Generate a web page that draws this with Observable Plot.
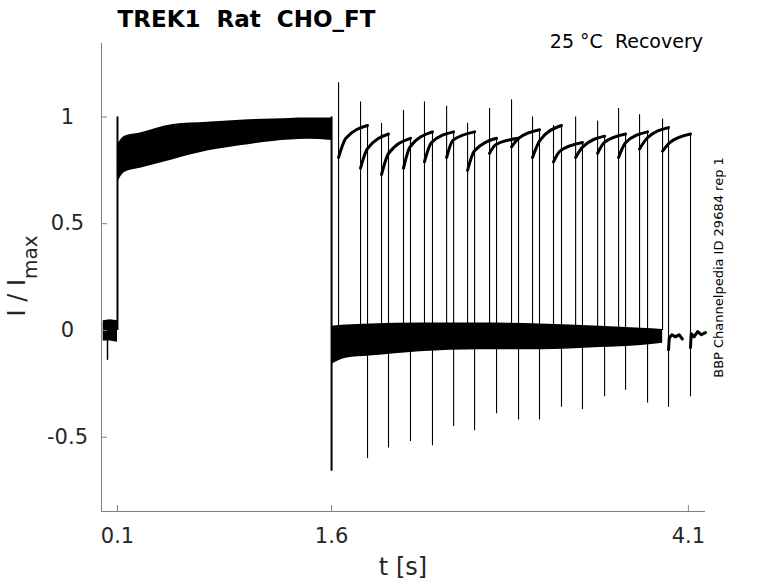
<!DOCTYPE html>
<html><head><meta charset="utf-8">
<script src="https://cdn.jsdelivr.net/npm/d3@7"></script>
<script src="https://cdn.jsdelivr.net/npm/@observablehq/plot@0.6"></script>
<style>
body{margin:0;background:#fff;}
svg text{font-family:"DejaVu Sans",sans-serif;}
</style>
</head><body><div id="chart"></div>
<script>
// ---- ticks ----
const xTicks = [0.1, 1.6, 4.1];
const yTicks = [-0.5, 0, 0.5, 1];
const xDomain = [-0.012, 4.22];
const yDomain = [-0.848, 1.344];

// ---- holding band before the conditioning step ----
const preT = [0.0, 0.05, 0.1];
const preTop = [0.045, 0.05, 0.045];
const preBottom = [-0.05, -0.05, -0.055];

// ---- conditioning pulse envelope (0.1 – 1.6 s) ----
const condT = [0.10, 0.15, 0.26, 0.49, 0.73, 0.96, 1.19, 1.43, 1.60];
const condTop = [0.87, 0.91, 0.925, 0.965, 0.975, 0.985, 0.99, 0.995, 0.995];
const condBottom = [0.69, 0.74, 0.76, 0.80, 0.84, 0.865, 0.885, 0.895, 0.89];

// ---- baseline band after the conditioning pulse ----
const baseT = [1.60, 1.70, 1.87, 2.22, 2.64, 3.06, 3.48, 3.77, 3.92];
const baseTop = [0.02, 0.025, 0.03, 0.035, 0.035, 0.03, 0.02, 0.01, 0.005];
const baseBottom = [-0.16, -0.13, -0.12, -0.10, -0.09, -0.09, -0.08, -0.07, -0.06];

// ---- recovery test pulses ----
const pulseOn     = [1.649, 1.803, 1.950, 2.104, 2.251, 2.406, 2.553, 2.707, 2.861, 3.008, 3.155, 3.310, 3.464, 3.611, 3.758, 3.919];
const pulseMidT   = [1.70, 1.85, 2.00, 2.15, 2.30, 2.45, 2.60, 2.75, 2.91, 3.06, 3.20, 3.36, 3.51, 3.66, 3.81, 3.97];
const pulseOff    = [1.852, 1.999, 2.153, 2.307, 2.455, 2.602, 2.756, 2.910, 3.057, 3.211, 3.358, 3.513, 3.660, 3.814, 3.961, 4.115];
const pulsePeak   = [1.16, 1.07, 0.97, 1.03, 1.07, 1.05, 0.97, 1.04, 1.08, 1.00, 0.96, 1.00, 0.98, 1.04, 1.01, 0.99];
const pulseStart  = [0.81, 0.76, 0.73, 0.76, 0.79, 0.81, 0.75, 0.83, 0.86, 0.81, 0.79, 0.81, 0.83, 0.81, 0.85, 0.84];
const pulseMid    = [0.90, 0.85, 0.83, 0.86, 0.88, 0.89, 0.84, 0.87, 0.90, 0.89, 0.84, 0.86, 0.88, 0.88, 0.90, 0.88];
const pulseEnd    = [0.96, 0.92, 0.90, 0.93, 0.93, 0.93, 0.90, 0.90, 0.94, 0.96, 0.88, 0.91, 0.92, 0.93, 0.95, 0.92];
const pulseTrough = [-0.60, -0.55, -0.52, -0.54, -0.45, -0.47, -0.39, -0.42, -0.42, -0.36, -0.37, -0.31, -0.28, -0.34, -0.36, -0.31];

// ---- main step transients ----
const stepT   = [0.03, 0.1, 1.6];
const stepFrom = [0, 0, 1.0];
const stepTo   = [-0.14, 1.0, -0.66];
const stepW    = [1.5, 2, 2];

// ---- tails of the last two sweeps ----
const tailA_T = [3.961, 3.966, 3.985, 4.01, 4.035, 4.058];
const tailA_V = [-0.09, -0.035, -0.02, -0.03, -0.02, -0.04];
const tailB_T = [4.115, 4.12, 4.14, 4.165, 4.19, 4.22];
const tailB_V = [-0.08, -0.015, -0.03, -0.005, -0.02, -0.01];

// ---- build tables ----
const band = (T, lo, hi) => T.map((t, i) => ({t, lo: lo[i], hi: hi[i]}));
const preRows = band(preT, preBottom, preTop);
const condRows = band(condT, condBottom, condTop);
const baseRows = band(baseT, baseBottom, baseTop);
const pulseRows = pulseOn.flatMap((t, k) => [
  {k, t, v: pulseStart[k]},
  {k, t: pulseMidT[k], v: pulseMid[k]},
  {k, t: pulseOff[k], v: pulseEnd[k]}
]);
const idx = d3.range(pulseOn.length);
const stepIdx = d3.range(stepT.length);
const tailRows = [
  ...tailA_T.map((t, i) => ({k: "a", t, v: tailA_V[i]})),
  ...tailB_T.map((t, i) => ({k: "b", t, v: tailB_V[i]}))
];

const W = 778, H = 583;
const mL = 101, mR = 73, mT = 43, mB = 72;
const axisGray = "#808080", textCol = "#262626";

const plot = Plot.plot({
  width: W, height: H,
  marginLeft: mL, marginRight: mR, marginTop: mT, marginBottom: mB,
  style: {background: "white", fontFamily: "DejaVu Sans, sans-serif", overflow: "visible"},
  x: {domain: xDomain},
  y: {domain: yDomain},
  marks: [
    Plot.areaY(preRows, {x: "t", y1: "lo", y2: "hi", fill: "black"}),
    Plot.areaY(condRows, {x: "t", y1: "lo", y2: "hi", fill: "black", curve: "monotone-x"}),
    Plot.areaY(baseRows, {x: "t", y1: "lo", y2: "hi", fill: "black", curve: "monotone-x"}),
    Plot.ruleX(stepIdx, {x: i => stepT[i], y1: i => stepFrom[i], y2: i => stepTo[i], stroke: "black", strokeWidth: i => stepW[i]}),
    Plot.ruleX(idx, {x: i => pulseOn[i], y1: 0, y2: i => pulsePeak[i], stroke: "black", strokeWidth: 1.1}),
    Plot.ruleX(idx, {x: i => pulseOff[i], y1: i => pulseEnd[i], y2: i => pulseTrough[i], stroke: "black", strokeWidth: 1.1}),
    Plot.line(pulseRows, {x: "t", y: "v", z: "k", stroke: "black", strokeWidth: 3, curve: "monotone-x"}),
    Plot.line(tailRows, {x: "t", y: "v", z: "k", stroke: "black", strokeWidth: 3, curve: "linear"}),
    // axis lines
    Plot.ruleX([xDomain[0]], {stroke: axisGray}),
    Plot.ruleY([yDomain[0]], {stroke: axisGray}),
    // inward ticks
    Plot.tickY(yTicks, {y: d => d, stroke: axisGray, insetRight: W - mL - mR - 6}),
    Plot.tickX(xTicks, {x: d => d, stroke: axisGray, insetTop: H - mT - mB - 6}),
    Plot.axisY(yTicks, {tickSize: 0, tickPadding: 34, textAnchor: "middle", fontSize: 21, tickFormat: d => String(d), fill: textCol, label: null}),
    Plot.axisX(xTicks, {tickSize: 0, tickPadding: 17, fontSize: 21, tickFormat: d => String(d), fill: textCol, label: null})
  ]
});
document.getElementById("chart").appendChild(plot);

const svg = d3.select(plot);
const addText = (x, y, str, opts) => {
  const t = svg.append("text").attr("x", x).attr("y", y).text(str)
    .style("white-space", "pre")
    .attr("font-family", "DejaVu Sans, sans-serif")
    .attr("fill", opts.fill || textCol)
    .attr("font-size", opts.size)
    .attr("text-anchor", opts.anchor || "middle");
  if (opts.bold) t.attr("font-weight", "bold");
  if (opts.transform) t.attr("transform", opts.transform).attr("x", 0).attr("y", 0);
  return t;
};
addText(246.5, 27, "TREK1  Rat  CHO_FT", {size: 23, bold: true, fill: "#000"});
addText(703, 48, "25 °C  Recovery", {size: 19, anchor: "end", fill: "#000"});
addText(403, 575, "t [s]", {size: 24});
addText(0, 0, "BBP Channelpedia ID 29684 rep 1", {size: 13, transform: "translate(723,267.5) rotate(-90)", fill: "#000"});
const yl = svg.append("text")
  .attr("transform", "translate(25,276) rotate(-90)")
  .attr("text-anchor", "middle")
  .attr("font-family", "DejaVu Sans, sans-serif")
  .attr("font-size", 24)
  .attr("fill", textCol)
  .style("white-space", "pre");
yl.append("tspan").text("I / I");
yl.append("tspan").text("max").attr("font-size", 20).attr("dy", 12);
</script>
</body></html>
